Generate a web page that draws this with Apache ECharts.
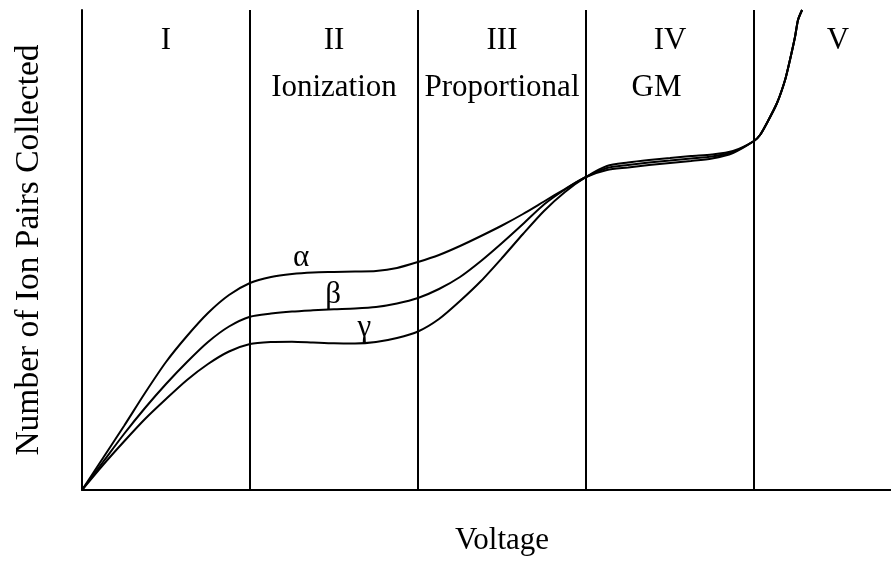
<!DOCTYPE html>
<html>
<head>
<meta charset="utf-8">
<script src="https://cdn.jsdelivr.net/npm/echarts@6/dist/echarts.min.js"></script>
<style>
  html, body { margin: 0; padding: 0; background: #fff; }
  #chart { width: 891px; height: 562px; }
</style>
</head>
<body>
<div id="chart"></div>
<script>
// Applied voltage (one unit per detector region) at which the curves are sampled
const voltage = [0, 0.125, 0.25, 0.375, 0.5, 0.625, 0.75, 0.875,
  1.0, 1.125, 1.25, 1.375, 1.5, 1.625, 1.75, 1.875,
  2.0, 2.125, 2.25, 2.375, 2.5, 2.625, 2.75, 2.875,
  3.0, 3.125, 3.25, 3.375, 3.5, 3.625, 3.75, 3.875,
  4.0, 4.036, 4.077, 4.137, 4.185, 4.214, 4.244, 4.262, 4.286];

// Ion pairs collected (arbitrary units) for each radiation type, regions I-IV
const alphaPairs = [0, 32, 64, 97, 128, 154, 177, 195,
  207, 213, 216, 217.5, 218, 218.5, 219, 222,
  228, 235, 244, 254, 264.5, 276, 288.5, 301,
  313, 320, 322.5, 325, 327, 329, 331.5, 337, 349];
const betaPairs = [0, 28, 56, 82, 106, 128, 148, 163.5,
  173.3, 176.5, 178.5, 179.7, 180.7, 181.5, 183, 186.5,
  192, 201, 213, 229, 247, 266, 285.5, 300.5,
  313, 322, 325, 327.5, 329.5, 331.5, 333.5, 338, 349];
const gammaPairs = [0, 25, 48.5, 71, 91, 110, 126, 138.5,
  146, 148, 148.3, 147.5, 146.7, 146.5, 148, 152,
  158.5, 171, 189, 209, 232, 256, 279, 298,
  313, 324, 327.5, 330, 332, 334, 335.5, 339, 349];
// Continuous discharge region (V), shared by all three
const dischargePairs = [355, 367, 387, 410, 430, 453, 470, 480];

// Region boundaries and labels
const boundaries = [1, 2, 3, 4];
const regionNumerals = ['I', 'II', 'III', 'IV', 'V'];
const regionNumeralX = [0.5, 1.5, 2.5, 3.5, 4.5];
const regionNames = ['Ionization', 'Proportional', 'GM'];
const regionNameX = [1.5, 2.5, 3.42];
const curveNames = ['α', 'β', 'γ'];
const curveNamePos = [[1.305, 232], [1.495, 195], [1.68, 162]];
const NUMERAL_Y = 449;
const NAME_Y = 402;

const X_MAX = 4.8155;
const Y_MAX = 480;
const FONT = '"Liberation Serif", "DejaVu Serif", serif';

function pairs(values) {
  const all = values.concat(dischargePairs);
  return voltage.map((v, i) => [v, all[i]]);
}

const lineCommon = {
  type: 'line',
  smooth: 0.25,
  showSymbol: false,
  symbol: 'none',
  lineStyle: { color: '#000', width: 2 },
  silent: true,
  z: 3
};

const chart = echarts.init(document.getElementById('chart'), null, { renderer: 'canvas' });
chart.setOption({
  backgroundColor: '#fff',
  animation: false,
  grid: { left: 82, right: 0, top: 10, bottom: 72 },
  xAxis: {
    type: 'value', min: 0, max: X_MAX,
    axisLine: { show: true, onZero: false, lineStyle: { color: '#000', width: 2 } },
    axisTick: { show: false }, axisLabel: { show: false }, splitLine: { show: false }
  },
  yAxis: {
    type: 'value', min: 0, max: Y_MAX,
    axisLine: { show: true, onZero: false, lineStyle: { color: '#000', width: 2 } },
    axisTick: { show: false }, axisLabel: { show: false }, splitLine: { show: false }
  },
  series: [
    Object.assign({}, lineCommon, {
      name: 'alpha', data: pairs(alphaPairs),
      markLine: {
        silent: true, symbol: 'none', animation: false,
        label: { show: false },
        lineStyle: { color: '#000', width: 2, type: 'solid' },
        data: boundaries.map(b => ({ xAxis: b }))
      }
    }),
    Object.assign({}, lineCommon, { name: 'beta', data: pairs(betaPairs) }),
    Object.assign({}, lineCommon, { name: 'gamma', data: pairs(gammaPairs) })
  ]
});

// Text placed at data coordinates of the grid
function textAt(x, y, text, size) {
  const p = chart.convertToPixel({ gridIndex: 0 }, [x, y]);
  return {
    type: 'text', x: p[0], y: p[1], silent: true,
    style: {
      text: text, fill: '#000', font: size + 'px ' + FONT,
      textAlign: 'center', textVerticalAlign: 'middle'
    }
  };
}

const graphics = [];
regionNumerals.forEach((t, i) => graphics.push(textAt(regionNumeralX[i], NUMERAL_Y, t, 31)));
regionNames.forEach((t, i) => graphics.push(textAt(regionNameX[i], NAME_Y, t, 31)));
curveNames.forEach((t, i) => graphics.push(textAt(curveNamePos[i][0], curveNamePos[i][1], t, 31)));
graphics.push({
  type: 'text', x: 29, y: 250, rotation: Math.PI / 2, silent: true,
  style: {
    text: 'Number of Ion Pairs Collected', fill: '#000',
    font: '33.5px ' + FONT, textAlign: 'center', textVerticalAlign: 'middle'
  }
});
graphics.push(textAt(2.5, -51, 'Voltage', 31));
chart.setOption({ graphic: graphics });
</script>
</body>
</html>
